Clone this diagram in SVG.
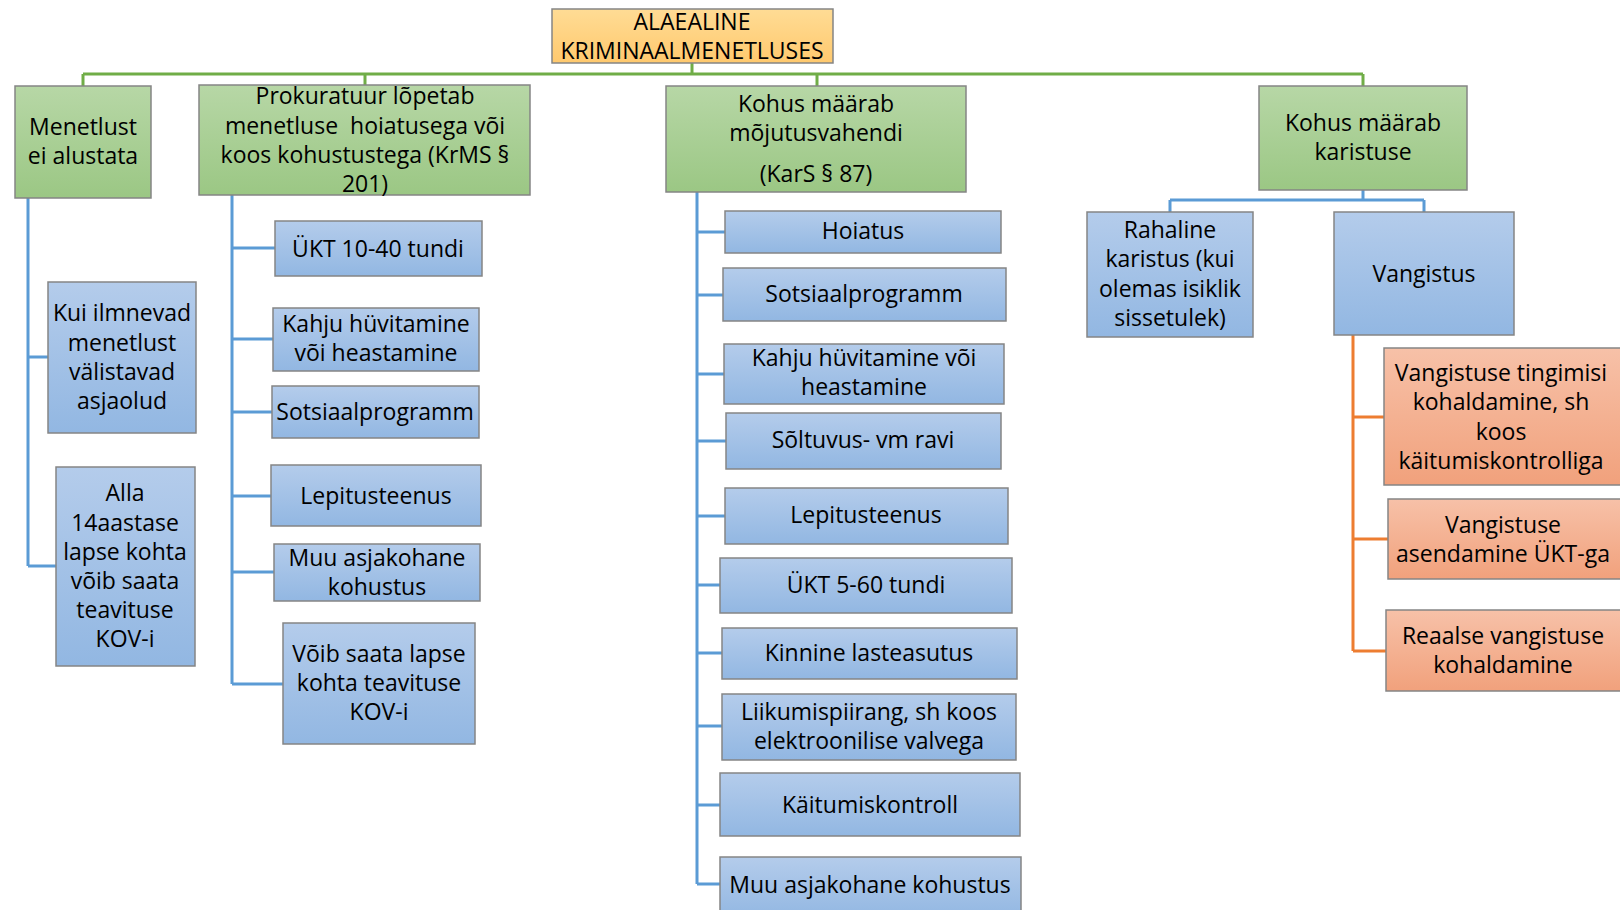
<svg xmlns="http://www.w3.org/2000/svg" width="1620" height="910" viewBox="0 0 1620 910">
<defs>
<linearGradient id="gGreen" x1="0" y1="0" x2="0" y2="1"><stop offset="0" stop-color="#b7d7a6"/><stop offset="1" stop-color="#9bc784"/></linearGradient>
<linearGradient id="gBlue" x1="0" y1="0" x2="0" y2="1"><stop offset="0" stop-color="#b4cceb"/><stop offset="1" stop-color="#92b7e2"/></linearGradient>
<linearGradient id="gOrange" x1="0" y1="0" x2="0" y2="1"><stop offset="0" stop-color="#f7c1a8"/><stop offset="1" stop-color="#f1a17c"/></linearGradient>
<linearGradient id="gTop" x1="0" y1="0" x2="0" y2="1"><stop offset="0" stop-color="#ffdc95"/><stop offset="1" stop-color="#ffc96e"/></linearGradient>
</defs>
<style>
rect{stroke:#858585;stroke-width:1.5}
.g{fill:url(#gGreen)}
.b{fill:url(#gBlue)}
.o{fill:url(#gOrange)}
.t{fill:url(#gTop)}
text{font-family:"Open Sans","DejaVu Sans",sans-serif;font-size:23px;text-anchor:middle;fill:#000}
.cg{fill:none;stroke:#70ad47;stroke-width:3}
.cb{fill:none;stroke:#5b9bd5;stroke-width:3}
.co{fill:none;stroke:#ed7d31;stroke-width:3}
</style>
<g id="connectors">
<path class="cg" d="M692 63V74M83 74H1363M83 74V86M365 74V85M817 74V86M1363 74V86"/>
<path class="cb" d="M28 198V566M28 357H48M28 566H56"/>
<path class="cb" d="M232 195V684M232 248H275M232 339H273M232 412H272M232 496H271M232 572H274M232 684H283"/>
<path class="cb" d="M697 192V884M697 232H725M697 295H723M697 374H724M697 441H726M697 516H725M697 585H720M697 653H722M697 726H722M697 805H720M697 884H720"/>
<path class="cb" d="M1363 190V200M1170 200H1424M1170 200V212M1424 200V212"/>
<path class="co" d="M1353 335V651M1353 417H1384M1353 539H1388M1353 651H1386"/>
</g>
<g id="root"><rect class="t" x="552" y="9" width="281" height="54"/><text x="692" y="29.5">ALAEALINE</text><text x="692" y="58.5">KRIMINAALMENETLUSES</text></g>
<g id="menetlust"><rect class="g" x="15" y="86" width="136" height="112"/><text x="83" y="135">Menetlust</text><text x="83" y="164">ei alustata</text></g>
<g id="prokuratuur"><rect class="g" x="199" y="85" width="331" height="110"/><text x="365" y="104">Prokuratuur lõpetab</text><text x="365" y="134" xml:space="preserve">menetluse  hoiatusega või</text><text x="365" y="163">koos kohustustega (KrMS §</text><text x="365" y="192">201)</text></g>
<g id="kohus-mojutus"><rect class="g" x="666" y="86" width="300" height="106"/><text x="816" y="112">Kohus määrab</text><text x="816" y="141">mõjutusvahendi</text><text x="816" y="182">(KarS § 87)</text></g>
<g id="kohus-karistus"><rect class="g" x="1259" y="86" width="208" height="104"/><text x="1363" y="131">Kohus määrab</text><text x="1363" y="160">karistuse</text></g>
<g id="kui"><rect class="b" x="48" y="282" width="148" height="151"/><text x="122" y="321">Kui ilmnevad</text><text x="122" y="351">menetlust</text><text x="122" y="380">välistavad</text><text x="122" y="409">asjaolud</text></g>
<g id="alla"><rect class="b" x="56" y="467" width="139" height="199"/><text x="125" y="501">Alla</text><text x="125" y="531">14aastase</text><text x="125" y="560">lapse kohta</text><text x="125" y="589">võib saata</text><text x="125" y="618">teavituse</text><text x="125" y="647">KOV-i</text></g>
<g id="ukt10"><rect class="b" x="275" y="221" width="207" height="55"/><text x="378" y="257">ÜKT 10-40 tundi</text></g>
<g id="kahju1"><rect class="b" x="273" y="308" width="206" height="63"/><text x="376" y="332">Kahju hüvitamine</text><text x="376" y="361">või heastamine</text></g>
<g id="sots1"><rect class="b" x="272" y="386" width="207" height="52"/><text x="375" y="420">Sotsiaalprogramm</text></g>
<g id="lepit1"><rect class="b" x="271" y="465" width="210" height="61"/><text x="376" y="504">Lepitusteenus</text></g>
<g id="muu1"><rect class="b" x="274" y="544" width="206" height="57"/><text x="377" y="566">Muu asjakohane</text><text x="377" y="595">kohustus</text></g>
<g id="voib"><rect class="b" x="283" y="623" width="192" height="121"/><text x="379" y="662">Võib saata lapse</text><text x="379" y="691">kohta teavituse</text><text x="379" y="720">KOV-i</text></g>
<g id="hoiatus"><rect class="b" x="725" y="211" width="276" height="42"/><text x="863" y="239">Hoiatus</text></g>
<g id="sots2"><rect class="b" x="723" y="268" width="283" height="53"/><text x="864" y="302">Sotsiaalprogramm</text></g>
<g id="kahju2"><rect class="b" x="724" y="344" width="280" height="60"/><text x="864" y="366">Kahju hüvitamine või</text><text x="864" y="395">heastamine</text></g>
<g id="soltuvus"><rect class="b" x="726" y="413" width="275" height="56"/><text x="863" y="448">Sõltuvus- vm ravi</text></g>
<g id="lepit2"><rect class="b" x="725" y="488" width="283" height="56"/><text x="866" y="523">Lepitusteenus</text></g>
<g id="ukt5"><rect class="b" x="720" y="558" width="292" height="55"/><text x="866" y="593">ÜKT 5-60 tundi</text></g>
<g id="kinnine"><rect class="b" x="722" y="628" width="295" height="51"/><text x="869" y="661">Kinnine lasteasutus</text></g>
<g id="liikumis"><rect class="b" x="722" y="694" width="294" height="66"/><text x="869" y="720">Liikumispiirang, sh koos</text><text x="869" y="749">elektroonilise valvega</text></g>
<g id="kaitumis"><rect class="b" x="720" y="773" width="300" height="63"/><text x="870" y="813">Käitumiskontroll</text></g>
<g id="muu2"><rect class="b" x="720" y="857" width="301" height="62"/><text x="870" y="893">Muu asjakohane kohustus</text></g>
<g id="rahaline"><rect class="b" x="1087" y="212" width="166" height="125"/><text x="1170" y="238">Rahaline</text><text x="1170" y="267">karistus (kui</text><text x="1170" y="297">olemas isiklik</text><text x="1170" y="326">sissetulek)</text></g>
<g id="vangistus"><rect class="b" x="1334" y="212" width="180" height="123"/><text x="1424" y="282">Vangistus</text></g>
<g id="tingimisi"><rect class="o" x="1384" y="348" width="240" height="137"/><text x="1501" y="381">Vangistuse tingimisi</text><text x="1501" y="410">kohaldamine, sh</text><text x="1501" y="440">koos</text><text x="1501" y="469">käitumiskontrolliga</text></g>
<g id="asendamine"><rect class="o" x="1388" y="499" width="236" height="80"/><text x="1503" y="533">Vangistuse</text><text x="1503" y="562">asendamine ÜKT-ga</text></g>
<g id="reaalse"><rect class="o" x="1386" y="610" width="238" height="81"/><text x="1503" y="644">Reaalse vangistuse</text><text x="1503" y="673">kohaldamine</text></g>
</svg>
